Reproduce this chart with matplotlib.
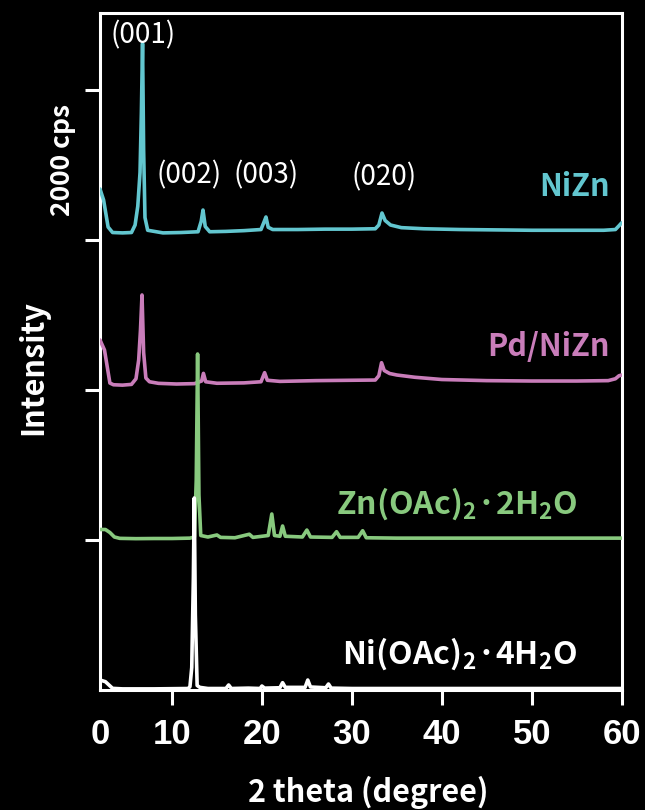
import matplotlib
matplotlib.use("Agg")
import matplotlib.pyplot as plt

plt.rcParams["mathtext.fontset"] = "custom"

W, H, DPI = 645, 810, 100

# ---- XRD traces: 2-theta (deg) and counts (cps) above each trace's baseline ----
nizn_2theta = [2.0, 2.4, 2.9, 3.4, 4.5, 5.5, 5.9, 6.2, 6.45, 6.6, 6.73, 6.85, 7.0, 7.3,
               9.0, 11.0, 12.9, 13.25, 13.45, 13.7, 14.2, 16.0, 18.0, 19.9, 20.2, 20.45,
               20.7, 21.2, 24.0, 27.0, 30.0, 32.6, 33.0, 33.35, 33.7, 34.3, 35.5, 38.0,
               42.0, 46.0, 50.0, 54.0, 58.0, 59.3, 59.7, 60.0]
nizn_cps = [680, 533, 173, 100, 95, 100, 200, 450, 900, 1700, 2620, 1200, 300, 130,
            95, 100, 110, 250, 400, 180, 110, 115, 125, 140, 230, 307,
            170, 140, 140, 145, 145, 150, 200, 360, 260, 200, 165, 150,
            140, 135, 130, 130, 130, 140, 190, 230]

pdnizn_2theta = [2.0, 2.5, 3.1, 3.5, 4.5, 5.5, 6.0, 6.3, 6.5, 6.67, 6.85, 7.1, 7.5, 8.5,
                 10.5, 12.5, 13.3, 13.5, 13.75, 15.0, 18.0, 19.9, 20.3, 20.6, 22.0, 26.0,
                 30.0, 32.6, 33.0, 33.3, 33.6, 34.2, 35.0, 37.0, 40.0, 45.0, 50.0, 55.0,
                 58.5, 59.3, 59.7, 60.0]
pdnizn_cps = [667, 533, 93, 70, 65, 75, 150, 400, 800, 1267, 500, 160, 110, 89,
              80, 85, 120, 222, 110, 90, 95, 110, 231, 130, 115, 125,
              130, 133, 190, 364, 260, 220, 200, 170, 140, 125, 120, 120,
              125, 150, 190, 200]

znoac_2theta = [2.0, 2.6, 3.1, 3.6, 4.2, 6.0, 8.0, 10.0, 12.0, 12.5, 12.7, 12.85, 13.0,
                13.2, 14.0, 15.0, 15.4, 17.0, 18.6, 19.0, 20.7, 21.1, 21.4, 22.0, 22.3,
                22.6, 24.5, 25.0, 25.4, 27.8, 28.3, 28.7, 30.7, 31.2, 31.6, 35.0, 40.0,
                45.0, 50.0, 55.0, 60.0]
znoac_cps = [140, 140, 100, 40, 22, 18, 20, 20, 25, 40, 800, 2480, 600,
             60, 40, 67, 35, 30, 77, 35, 60, 347, 60, 50, 187,
             50, 40, 133, 40, 35, 111, 35, 35, 124, 30, 25, 25,
             25, 25, 25, 25]

nioac_2theta = [2.0, 2.6, 3.4, 4.5, 8.0, 11.8, 12.0, 12.2, 12.38, 12.48, 12.6, 12.8,
                13.1, 14.0, 16.0, 16.3, 16.6, 18.5, 19.8, 20.0, 20.3, 22.0, 22.3, 22.6,
                24.8, 25.1, 25.4, 27.1, 27.4, 27.7, 30.0, 35.0, 40.0, 50.0, 60.0]
nioac_cps = [133, 111, 22, 15, 15, 20, 44, 300, 1500, 2560, 1000, 60,
             35, 20, 20, 67, 20, 25, 20, 53, 25, 30, 98, 35,
             35, 133, 40, 30, 80, 25, 20, 20, 20, 20, 20]

series_names = ["NiZn", "Pd/NiZn",
                r"Zn(OAc)$\mathregular{_2}$·2H$\mathregular{_2}$O",
                r"Ni(OAc)$\mathregular{_2}$·4H$\mathregular{_2}$O"]
series_offsets = [6000, 4000, 2000, 0]
series_colors = ["#62C6CF", "#C97DBA", "#88C97E", "#FFFFFF"]

peak_labels = ["(001)", "(002)", "(003)", "(020)"]

x_ticks = [2, 10, 20, 30, 40, 50, 60]
x_tick_labels = ["0", "10", "20", "30", "40", "50", "60"]
y_ticks = [2000, 4000, 6000, 8000]

# ---- figure ----
fig = plt.figure(figsize=(W / DPI, H / DPI), dpi=DPI, facecolor="black")
ax = fig.add_axes([100 / W, (H - 690) / H, (621.7 - 100) / W, (690 - 13) / H])
ax.set_facecolor("black")

traces = [(nizn_2theta, nizn_cps), (pdnizn_2theta, pdnizn_cps),
          (znoac_2theta, znoac_cps), (nioac_2theta, nioac_cps)]
for (tx, ty), off, col in zip(traces, series_offsets, series_colors):
    ax.plot(tx, [v + off for v in ty], color=col, lw=2.6,
            solid_joinstyle="round", solid_capstyle="round", zorder=3)

ax.set_xlim(2, 60)
ax.set_ylim(0, 9027)

for sp in ax.spines.values():
    sp.set_color("white")
    sp.set_linewidth(2.2)

ax.set_xticks(x_ticks)
ax.set_xticklabels(x_tick_labels, fontfamily="Liberation Sans",
                   fontweight="bold", fontsize=25, color="white")
ax.set_yticks(y_ticks)
ax.set_yticklabels([])
ax.tick_params(axis="both", direction="out", length=10.8, width=2.2,
               color="white", pad=9)
ax.xaxis.get_major_ticks()[0].tick1line.set_visible(False)

cal = "Noto Sans CJK JP"

def fx(px):
    return px / W

def fy(py):
    return 1 - py / H

# peak indices
for lab, (px, py) in zip(peak_labels, [(143, 35), (189, 175), (266, 175), (384, 177)]):
    fig.text(fx(px), fy(py), lab, ha="center", va="center", color="white",
             fontsize=20, fontfamily=cal)

# trace names
fig.text(fx(610), fy(187), series_names[0], ha="right", va="center",
         color=series_colors[0], fontsize=22, fontweight="bold", fontfamily=cal)
fig.text(fx(610), fy(347), series_names[1], ha="right", va="center",
         color=series_colors[1], fontsize=22, fontweight="bold", fontfamily=cal)
fig.text(fx(457), fy(514), series_names[2], ha="center", va="baseline",
         color=series_colors[2], fontsize=23, fontweight="bold", fontfamily=cal)
fig.text(fx(460), fy(664), series_names[3], ha="center", va="baseline",
         color=series_colors[3], fontsize=23, fontweight="bold", fontfamily=cal)

# axis titles
fig.text(fx(33), fy(368), "Intensity", rotation=90, ha="center", va="center",
         color="white", fontsize=22, fontweight="bold", fontfamily=cal)
fig.text(fx(63), fy(160), "2000 cps", rotation=90, ha="center", va="center",
         color="white", fontsize=19, fontweight="bold", fontfamily=cal)
fig.text(fx(368), fy(792), "2 theta (degree)", ha="center", va="center",
         color="white", fontsize=22, fontweight="bold", fontfamily=cal)

fig.savefig("out.png", dpi=DPI, facecolor="black")
